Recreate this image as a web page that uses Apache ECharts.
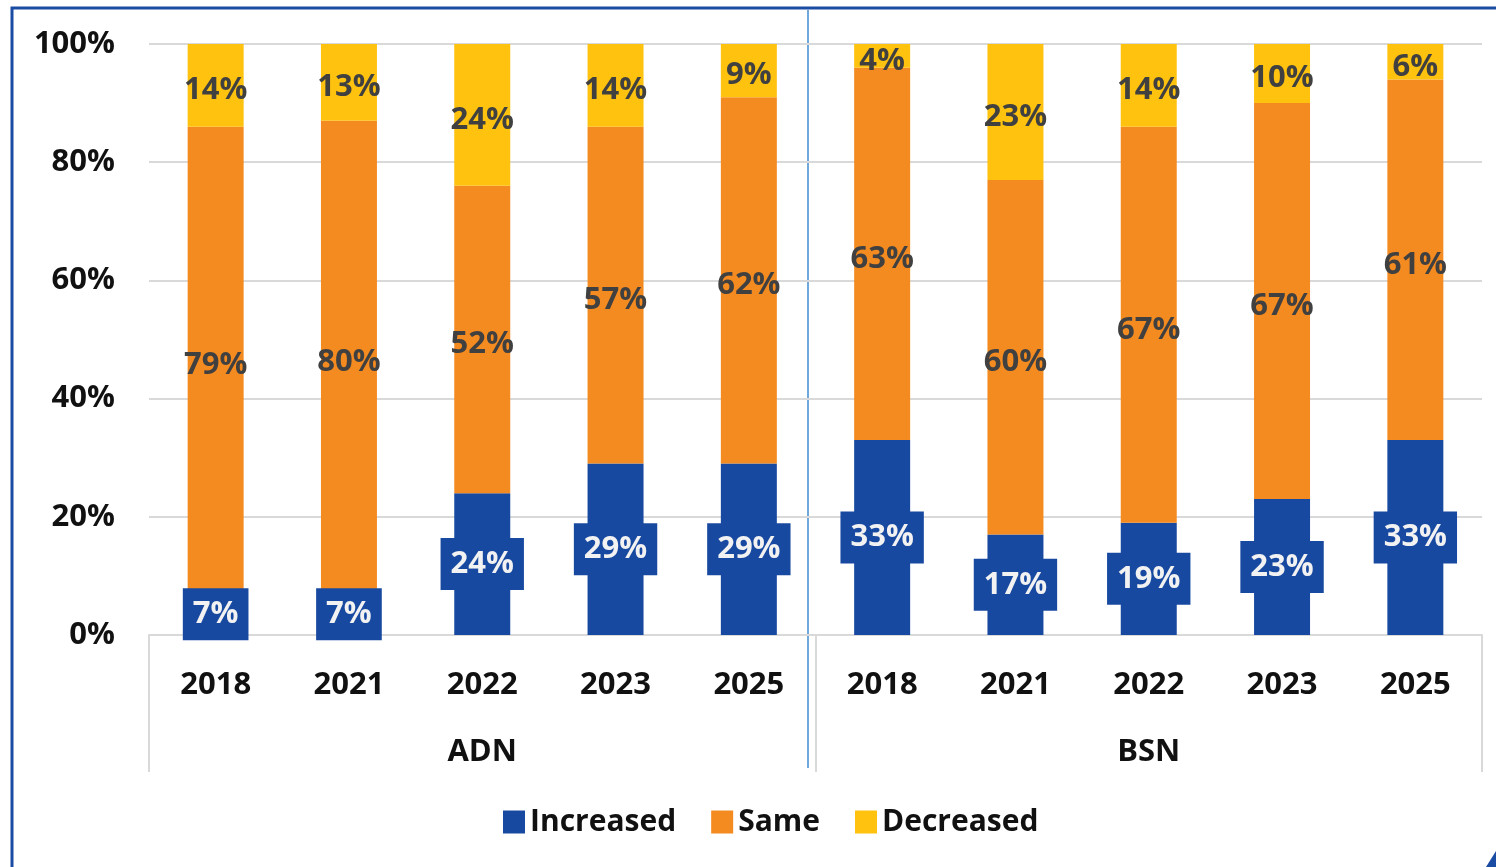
<!DOCTYPE html>
<html>
<head>
<meta charset="utf-8">
<script src="https://cdn.jsdelivr.net/npm/echarts@6/dist/echarts.min.js"></script>
<style>
  html, body { margin: 0; padding: 0; background: #fff; }
  #chart { width: 1496px; height: 867px; }
</style>
</head>
<body>
<div id="chart"></div>
<script>
const years = ['2018', '2021', '2022', '2023', '2025', '2018', '2021', '2022', '2023', '2025'];
const groups = ['ADN', 'BSN'];
const increased = [7, 7, 24, 29, 29, 33, 17, 19, 23, 33];
const same = [79, 80, 52, 57, 62, 63, 60, 67, 67, 61];
const decreased = [14, 13, 24, 14, 9, 4, 23, 14, 10, 6];
const yTicks = [0, 20, 40, 60, 80, 100];

const font = '"Open Sans", "Noto Sans", sans-serif';
const blue = '#1849A0';
const orange = '#F48B21';
const yellow = '#FFC20E';
const gridGray = '#d9d9d9';

const chart = echarts.init(document.getElementById('chart'));

function darkLabel() {
  return {
    show: true,
    position: 'inside',
    offset: [0, 5],
    formatter: '{c}%',
    color: '#404040',
    fontFamily: font,
    fontWeight: 'bold',
    fontSize: 31
  };
}

const option = {
  animation: false,
  grid: {left: 149, right: 14, top: 44, bottom: 232},
  legend: {
    data: ['Increased', 'Same', 'Decreased'],
    left: 498,
    top: 802,
    itemWidth: 22,
    itemHeight: 23,
    itemGap: 35,
    icon: 'rect',
    textStyle: {fontFamily: font, fontWeight: 'bold', fontSize: 30, color: '#111'}
  },
  xAxis: [
    {
      type: 'category',
      data: years,
      position: 'bottom',
      axisLine: {show: true, lineStyle: {color: gridGray, width: 2}},
      axisTick: {show: false},
      axisLabel: {
        margin: 34, lineHeight: 32, interval: 0,
        color: '#111', fontFamily: font, fontWeight: 'bold', fontSize: 31
      }
    },
    {
      type: 'category',
      data: groups,
      position: 'bottom',
      axisLine: {show: false},
      axisTick: {show: true, length: 137, interval: 0, lineStyle: {color: gridGray, width: 2}},
      axisLabel: {
        margin: 101, lineHeight: 32, interval: 0,
        color: '#111', fontFamily: font, fontWeight: 'bold', fontSize: 31
      }
    }
  ],
  yAxis: {
    type: 'value',
    min: yTicks[0],
    max: yTicks[yTicks.length - 1],
    interval: 20,
    axisLine: {show: false},
    axisTick: {show: false},
    splitLine: {lineStyle: {color: gridGray, width: 2}},
    axisLabel: {
      margin: 34,
      formatter: '{value}%',
      color: '#111', fontFamily: font, fontWeight: 'bold', fontSize: 31
    }
  },
  series: [
    {
      name: 'Increased',
      type: 'bar',
      stack: 'total',
      barWidth: '42%',
      data: increased,
      itemStyle: {color: blue},
      label: {
        show: true,
        position: 'inside',
        formatter: '{c}%',
        color: '#f2f2f2',
        backgroundColor: blue,
        padding: [14, 10, 6, 10],
        lineHeight: 32,
        fontFamily: font,
        fontWeight: 'bold',
        fontSize: 31
      }
    },
    {
      name: 'Same',
      type: 'bar',
      stack: 'total',
      data: same,
      itemStyle: {color: orange},
      label: darkLabel()
    },
    {
      name: 'Decreased',
      type: 'bar',
      stack: 'total',
      data: decreased,
      itemStyle: {color: yellow},
      label: darkLabel()
    }
  ],
  graphic: [
    {
      type: 'rect',
      shape: {x: 12, y: 8, width: 1520, height: 900},
      style: {fill: 'none', stroke: '#1B4CA3', lineWidth: 3},
      silent: true
    },
    {
      type: 'line',
      shape: {x1: 808, y1: 10, x2: 808, y2: 768},
      style: {stroke: '#6FA8DC', lineWidth: 2},
      silent: true
    },
    {
      type: 'polygon',
      shape: {points: [[1496, 851], [1486, 867], [1496, 867]]},
      style: {fill: '#1B4CA3'},
      silent: true
    }
  ]
};

chart.setOption(option);
window.addEventListener('resize', function () {
  chart.resize();
});
</script>
</body>
</html>
